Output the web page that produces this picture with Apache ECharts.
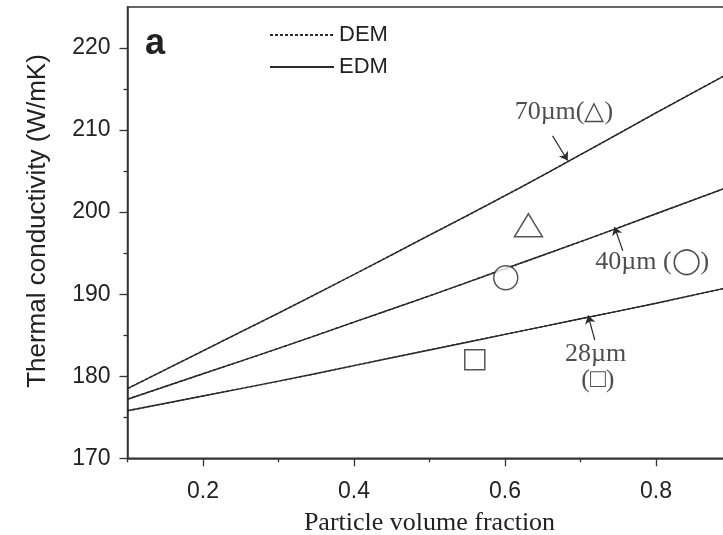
<!DOCTYPE html>
<html>
<head>
<meta charset="utf-8">
<script src="https://cdn.jsdelivr.net/npm/echarts@6/dist/echarts.min.js"></script>
<style>
html,body{margin:0;padding:0;background:#fff;}
#c{width:723px;height:535px;}
</style>
</head>
<body>
<div id="c"></div>
<script>
// ---- data ----
const xValues = [0.1, 0.2, 0.3, 0.4, 0.5, 0.6, 0.7, 0.8, 0.9];
const edm70 = [178.5, 183.1, 187.7, 192.4, 197.2, 202.0, 207.0, 212.1, 217.1];
const edm40 = [177.2, 180.3, 183.4, 186.6, 189.8, 193.1, 196.4, 199.8, 203.2];
const edm28 = [175.8, 177.6, 179.4, 181.3, 183.2, 185.1, 187.0, 188.9, 190.9];
const dem70 = [178.5, 183.1, 187.7, 192.4, 197.2, 202.0, 207.0, 212.1, 217.1];
const dem40 = [177.2, 180.3, 183.4, 186.6, 189.8, 193.1, 196.4, 199.8, 203.2];
const dem28 = [175.8, 177.6, 179.4, 181.3, 183.2, 185.1, 187.0, 188.9, 190.9];
const exp70 = [[0.631, 198.4]];
const exp40 = [[0.601, 192.0]];
const exp28 = [[0.560, 182.0]];
const xMajorTicks = [0.2, 0.4, 0.6, 0.8];
const xMinorTicks = [0.1, 0.3, 0.5, 0.7, 0.9];
const yMajorTicks = [170, 180, 190, 200, 210, 220];
const yMinorTicks = [175, 185, 195, 205, 215];
const annoLabels = ['70\u00b5m(\u25b3)', '40\u00b5m (\u25ef)', '28\u00b5m', '(\u25a1)'];
const annoPos = [[0.678, 212.2], [0.795, 193.9], [0.72, 182.7], [0.723, 179.5]];
const arrows = [
  [[0.663, 209.3], [0.683, 206.3]],
  [[0.756, 195.3], [0.745, 198.2]],
  [[0.719, 184.4], [0.710, 187.4]]
];

const INK = '#2b2b2b';
const sans = "'Liberation Sans', Arial, sans-serif";
const serif = "'Liberation Serif', 'Times New Roman', serif";
const pair = (xs, ys) => xs.map((x, i) => [x, ys[i]]);

function lineSeries(name, ys, dashed) {
  return {
    name: name, type: 'line', data: pair(xValues, ys), symbol: 'none', smooth: true,
    lineStyle: {color: INK, width: 1.4, type: dashed ? [3, 2] : 'solid'},
    itemStyle: {color: INK}, z: dashed ? 3 : 2
  };
}
function markerSeries(data, symbol, size) {
  return {
    type: 'scatter', data: data, symbol: symbol, symbolSize: size,
    itemStyle: {color: '#fff', borderColor: INK, borderWidth: 1.5}, z: 5
  };
}

const chart = echarts.init(document.getElementById('c'), null, {renderer: 'canvas'});
chart.setOption({
  animation: false,
  backgroundColor: '#fff',
  grid: {left: 127.5, right: -8.5, top: 7, bottom: 76.7, outerBoundsMode: 'none', containLabel: false,
    show: true, borderColor: '#333', borderWidth: 1.5},
  legend: {
    data: ['DEM', 'EDM'], orient: 'vertical', left: 264, top: 19,
    itemWidth: 64, itemHeight: 12, itemGap: 10,
    itemStyle: {color: 'rgba(0,0,0,0)', borderWidth: 0, opacity: 0},
    textStyle: {fontFamily: sans, fontSize: 22, color: '#222'}
  },
  xAxis: [{
    type: 'value', min: 0.1, max: 0.9, position: 'bottom',
    axisLine: {lineStyle: {color: '#333', width: 1.5}},
    axisTick: {customValues: xMajorTicks, length: 8, lineStyle: {color: '#333', width: 1.3}},
    axisLabel: {customValues: xMajorTicks, formatter: v => v.toFixed(1), margin: 22,
      fontFamily: sans, fontSize: 23, color: '#222'},
    splitLine: {show: false},
    name: 'Particle volume fraction', nameLocation: 'middle', nameGap: 52,
    nameTextStyle: {fontFamily: serif, fontSize: 26, color: '#222'}
  }, {
    type: 'value', min: 0.1, max: 0.9, position: 'bottom',
    axisLine: {show: false},
    axisTick: {customValues: xMinorTicks, length: 4, lineStyle: {color: '#333', width: 1.3}},
    axisLabel: {show: false}, splitLine: {show: false}
  }],
  yAxis: [{
    type: 'value', min: 170, max: 225, position: 'left',
    axisLine: {show: true, lineStyle: {color: '#333', width: 1.5}},
    axisTick: {show: true, customValues: yMajorTicks, length: 8, lineStyle: {color: '#333', width: 1.3}},
    axisLabel: {customValues: yMajorTicks, margin: 17, fontFamily: sans, fontSize: 23, color: '#222'},
    splitLine: {show: false}
  }, {
    type: 'value', min: 170, max: 225, position: 'left',
    axisLine: {show: false},
    axisTick: {show: true, customValues: yMinorTicks, length: 4, lineStyle: {color: '#333', width: 1.3}},
    axisLabel: {show: false}, splitLine: {show: false}
  }],
  graphic: [
    {type: 'text', left: 145, top: 26, style: {text: 'a', font: "bold 36px 'Liberation Sans', Arial", fill: '#222'}},
    {type: 'text', x: 37.5, y: 221, rotation: Math.PI / 2,
      style: {text: 'Thermal conductivity (W/mK)', font: "26px 'Liberation Sans', Arial", fill: '#222',
        align: 'center', verticalAlign: 'middle'}}
  ],
  series: [
    lineSeries('EDM', edm70, false),
    lineSeries('EDM', edm40, false),
    lineSeries('EDM', edm28, false),
    lineSeries('DEM', dem70, true),
    lineSeries('DEM', dem40, true),
    lineSeries('DEM', dem28, true),
    markerSeries(exp70, 'triangle', [28, 23]),
    markerSeries(exp40, 'circle', 24),
    markerSeries(exp28, 'rect', 20),
    {
      type: 'scatter', symbolSize: 0, z: 6,
      data: annoPos.map((p, i) => ({value: p, name: annoLabels[i]})),
      label: {show: true, position: 'inside', formatter: '{b}', fontFamily: serif, fontSize: 26, color: '#222'},
      markLine: {
        silent: true, symbol: ['none', 'arrow'], symbolSize: 8,
        label: {show: false},
        lineStyle: {color: INK, width: 1.2, type: 'solid'},
        data: arrows.map(a => [{coord: a[0]}, {coord: a[1]}])
      }
    }
  ]
});
</script>
</body>
</html>
